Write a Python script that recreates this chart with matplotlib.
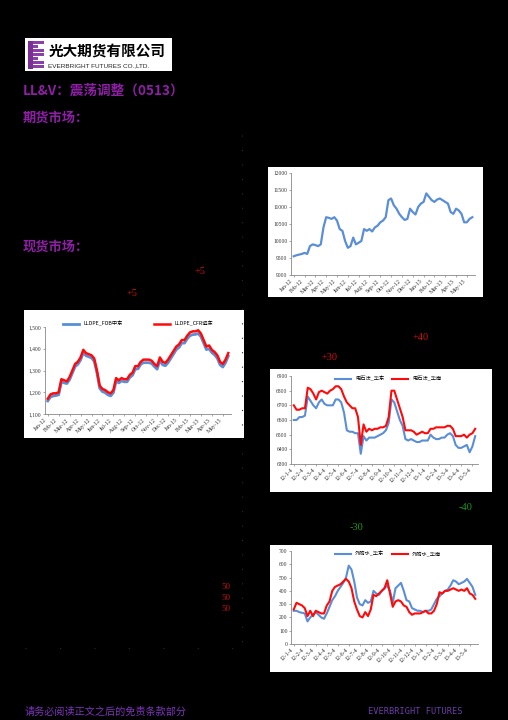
import numpy as np
import matplotlib
matplotlib.use("Agg")
import matplotlib.pyplot as plt
from matplotlib.patches import Rectangle
from matplotlib.lines import Line2D

plt.rcParams['font.family'] = ['Noto Sans CJK SC', 'DejaVu Sans']

W, H = 508, 720

# ---- data (4 readings per month, Jan-12 .. May-13) ----
month_labels = ['Jan-12', 'Feb-12', 'Mar-12', 'Apr-12', 'May-12', 'Jun-12', 'Jul-12', 'Aug-12',
                'Sep-12', 'Oct-12', 'Nov-12', 'Dec-12', 'Jan-13', 'Feb-13', 'Mar-13', 'Apr-13', 'May-13']
date_labels = ['12-1-4', '12-2-4', '12-3-4', '12-4-4', '12-5-4', '12-6-4', '12-7-4', '12-8-4',
               '12-9-4', '12-10-4', '12-11-4', '12-12-4', '13-1-4', '13-2-4', '13-3-4', '13-4-4', '13-5-4']

futures = [9550, 9580, 9600, 9620, 9650, 9620, 9850, 9900, 9880, 9850, 9900, 10400,
           10700, 10680, 10650, 10700, 10600, 10350, 10300, 10000, 9800, 9850, 10100, 9900,
           9950, 10000, 10350, 10300, 10350, 10280, 10400, 10450, 10550, 10600, 10700, 11200,
           11250, 11050, 10950, 10800, 10700, 10620, 10650, 10950, 10850, 10780, 11000, 11100,
           11150, 11400, 11300, 11200, 11150, 11220, 11250, 11200, 11150, 11100, 10850, 10800,
           10950, 10900, 10800, 10550, 10550, 10650, 10700]

lldpe_cfr = [1170, 1190, 1195, 1195, 1200, 1260, 1255, 1250, 1270, 1300, 1330, 1340,
             1360, 1395, 1380, 1375, 1370, 1355, 1300, 1230, 1215, 1210, 1200, 1195,
             1210, 1265, 1255, 1265, 1260, 1260, 1280, 1290, 1320, 1320, 1340, 1350,
             1350, 1350, 1345, 1330, 1320, 1360, 1340, 1335, 1350, 1370, 1390, 1410,
             1420, 1440, 1440, 1460, 1475, 1480, 1480, 1485, 1470, 1440, 1410, 1415,
             1395, 1385, 1370, 1340, 1330, 1350, 1380]
lldpe_fob = [1160, 1178, 1183, 1185, 1188, 1248, 1243, 1240, 1258, 1288, 1318, 1328,
             1348, 1382, 1368, 1363, 1358, 1342, 1288, 1218, 1203, 1198, 1188, 1183,
             1198, 1252, 1243, 1252, 1248, 1248, 1268, 1278, 1306, 1308, 1328, 1336,
             1336, 1336, 1332, 1318, 1306, 1346, 1326, 1322, 1336, 1356, 1376, 1396,
             1406, 1426, 1426, 1446, 1460, 1465, 1466, 1470, 1456, 1426, 1396, 1400,
             1382, 1372, 1356, 1326, 1316, 1336, 1366]

carbide_east = [6600, 6600, 6620, 6620, 6630, 6760, 6730, 6700, 6680, 6720, 6740, 6710,
                6700, 6700, 6700, 6740, 6740, 6720, 6650, 6530, 6520, 6520, 6510, 6510,
                6370, 6490, 6460, 6480, 6480, 6480, 6490, 6500, 6510, 6530, 6580, 6740,
                6720, 6660, 6600, 6560, 6470, 6460, 6470, 6460, 6450, 6450, 6460, 6460,
                6460, 6500, 6480, 6470, 6470, 6480, 6480, 6500, 6510, 6490, 6430, 6410,
                6410, 6420, 6430, 6380, 6420, 6490]
carbide_south = [6700, 6670, 6670, 6680, 6680, 6820, 6810, 6780, 6740, 6790, 6800, 6790,
                 6780, 6800, 6810, 6830, 6830, 6810, 6760, 6720, 6700, 6680, 6680, 6620,
                 6430, 6570, 6520, 6540, 6530, 6540, 6540, 6550, 6550, 6560, 6620, 6800,
                 6800, 6740, 6680, 6620, 6530, 6530, 6530, 6520, 6500, 6510, 6520, 6510,
                 6510, 6540, 6540, 6550, 6550, 6550, 6550, 6560, 6560, 6540, 6490, 6490,
                 6490, 6500, 6480, 6500, 6510, 6540]

spread_east = [250, 250, 240, 235, 230, 170, 200, 220, 240, 220, 200, 190,
               230, 280, 330, 360, 400, 430, 460, 500, 590, 560, 470, 350,
               300, 290, 330, 310, 320, 400, 380, 370, 400, 420, 440, 400,
               310, 420, 440, 460, 400, 330, 320, 270, 260, 250, 250, 240,
               250, 250, 260, 300, 340, 360, 380, 400, 410, 440, 480, 470,
               450, 460, 470, 490, 460, 430, 370]
spread_south = [260, 310, 300, 290, 270, 210, 250, 210, 250, 240, 230, 230,
                290, 320, 400, 430, 440, 450, 470, 490, 470, 420, 320, 260,
                210, 200, 240, 210, 260, 370, 360, 380, 400, 420, 480, 380,
                280, 320, 330, 320, 290, 280, 240, 220, 230, 230, 230, 240,
                250, 230, 230, 250, 300, 390, 380, 400, 400, 410, 420, 410,
                400, 410, 400, 420, 380, 370, 340]

blue = '#5A8ED6'
red = '#FF0A0A'
purple = '#8E1FA6'
tick_font = 'Liberation Serif'


def fig_box(x0, y0, x1, y1):
    return [x0 / W, 1 - y1 / H, (x1 - x0) / W, (y1 - y0) / H]


def fig_text(x, y, s, **kw):
    fig.text(x / W, 1 - y / H, s, va='center', **kw)


def white_box(x0, y0, x1, y1):
    fig.add_artist(Rectangle((x0 / W, 1 - y1 / H), (x1 - x0) / W, (y1 - y0) / H,
                             transform=fig.transFigure, facecolor='white', edgecolor='none',
                             zorder=-5))


def style_axes(ax, labels, ylim, yticks, yfmt):
    ax.set_facecolor('white')
    for s in ['top', 'right']:
        ax.spines[s].set_visible(False)
    for s in ['left', 'bottom']:
        ax.spines[s].set_color('#888888')
        ax.spines[s].set_linewidth(0.6)
    ax.set_ylim(*ylim)
    ax.set_yticks(yticks)
    ax.set_yticklabels([yfmt(v) for v in yticks], fontsize=4, family=tick_font, color='#333333')
    ax.set_xticks(np.arange(len(labels)) * 4)
    ax.set_xticklabels(labels, rotation=45, ha='right', fontsize=4.2, family=tick_font,
                       color='#333333')
    ax.tick_params(length=1.5, width=0.4, pad=1, colors='#666666', labelcolor='#333333')


fig = plt.figure(figsize=(W / 100, H / 100), dpi=100, facecolor='black')

# ---- logo ----
white_box(25, 38, 172, 71)
for i, yy in enumerate(range(41, 69, 4)):
    fig.add_artist(Rectangle((28 / W, 1 - (yy + 3) / H), (16 - (i % 3 == 1) * 6) / W, 3 / H,
                             transform=fig.transFigure, facecolor='#8B3FA8', edgecolor='none'))
fig.add_artist(Rectangle((28 / W, 1 - 69 / H), 5 / W, 28 / H,
                         transform=fig.transFigure, facecolor='#7A2E96', edgecolor='none'))
fig_text(49, 52, '光大期货有限公司', fontsize=10.5, fontweight='bold', color='black')
fig_text(48, 66, 'EVERBRIGHT FUTURES CO.,LTD.', fontsize=4.6, color='#222222',
         family=['Liberation Sans'])

# ---- headings ----
fig_text(23, 91, 'LL&V：震荡调整（0513）', fontsize=9.8, color=purple, fontweight='bold')
fig_text(23, 118, '期货市场：', fontsize=9.5, color=purple, fontweight='bold')
fig_text(23, 247, '现货市场：', fontsize=9.5, color=purple, fontweight='bold')

red_txt = '#D01010'
fig_text(195, 272, '+5', fontsize=7.5, color=red_txt, family=[tick_font])
fig_text(127, 293, '+5', fontsize=7.5, color=red_txt, family=[tick_font])
fig_text(413, 337, '+40', fontsize=7.5, color=red_txt, family=[tick_font])
fig_text(322, 357, '+30', fontsize=7.5, color=red_txt, family=[tick_font])
fig_text(459, 507, '-40', fontsize=7.5, color='#1E9A1E', family=[tick_font])
fig_text(350, 527, '-30', fontsize=7.5, color='#1E9A1E', family=[tick_font])
for yy in [587, 598, 609]:
    fig_text(221, yy, '50', fontsize=6.5, color='#C01010', family=[tick_font])

# faint table borders
fig.add_artist(Line2D([242 / W, 242 / W], [1 - 135 / H, 1 - 648 / H], transform=fig.transFigure,
                      color='#2a2a2a', lw=0.8, ls=(0, (1, 12))))
fig.add_artist(Line2D([25 / W, 242 / W], [1 - 648 / H, 1 - 648 / H], transform=fig.transFigure,
                      color='#2a2a2a', lw=0.8, ls=(0, (1, 30))))

# ---- chart A: futures ----
white_box(268, 167, 483, 297)
axA = fig.add_axes(fig_box(291, 173, 475, 275))
axA.plot(np.arange(len(futures)), futures, color=blue, lw=1.6)
style_axes(axA, month_labels, (9000, 12000), list(range(9000, 12001, 500)), lambda v: str(v))
axA.set_xlim(-1, len(futures))

# ---- chart B: LLDPE ----
white_box(24, 310, 244, 438)
axB = fig.add_axes(fig_box(45, 327, 231, 414))
axB.plot(np.arange(len(lldpe_fob)), lldpe_fob, color=blue, lw=2.0, label='LLDPE_FOB中东')
axB.plot(np.arange(len(lldpe_cfr)), lldpe_cfr, color=red, lw=1.8, label='LLDPE_CFR远东')
style_axes(axB, month_labels, (1100, 1500), list(range(1100, 1501, 100)), lambda v: f'{v:,}')
axB.set_xlim(-1, len(lldpe_cfr))
axB.legend(loc='lower center', bbox_to_anchor=(0.5, 0.98), ncol=2, frameon=False, fontsize=3.8,
           handlelength=3, columnspacing=6, borderaxespad=0)

# ---- chart C: carbide PVC ----
white_box(270, 369, 492, 492)
axC = fig.add_axes(fig_box(291, 376, 478, 464))
axC.plot(np.arange(len(carbide_east)), carbide_east, color=blue, lw=1.5, label='电石法_华东')
axC.plot(np.arange(len(carbide_south)), carbide_south, color=red, lw=1.5, label='电石法_华南')
style_axes(axC, date_labels, (6300, 6900), list(range(6300, 6901, 100)), lambda v: str(v))
axC.set_xlim(-1, len(carbide_east))
axC.legend(loc='upper center', bbox_to_anchor=(0.52, 1.02), ncol=2, frameon=False, fontsize=3.8,
           handlelength=3, columnspacing=1.5, borderaxespad=0)

# ---- chart D ----
white_box(270, 545, 492, 672)
axD = fig.add_axes(fig_box(291, 551, 478, 644))
axD.plot(np.arange(len(spread_east)), spread_east, color=blue, lw=1.5, label='外购水_华东')
axD.plot(np.arange(len(spread_south)), spread_south, color=red, lw=1.5, label='外购水_华南')
style_axes(axD, date_labels, (0, 700), list(range(0, 701, 100)), lambda v: str(v))
axD.set_xlim(-1, len(spread_east))
axD.legend(loc='upper center', bbox_to_anchor=(0.52, 1.02), ncol=2, frameon=False, fontsize=3.8,
           handlelength=3, columnspacing=1.5, borderaxespad=0)

# ---- footer ----
fig_text(25, 712, '请务必阅读正文之后的免责条款部分', fontsize=7.3, color='#7B35B8')
fig_text(368, 712, 'EVERBRIGHT FUTURES', fontsize=6.2, color='#6A3DA8', family=['DejaVu Sans Mono'])

fig.savefig('out.png', dpi=100, facecolor='black')
